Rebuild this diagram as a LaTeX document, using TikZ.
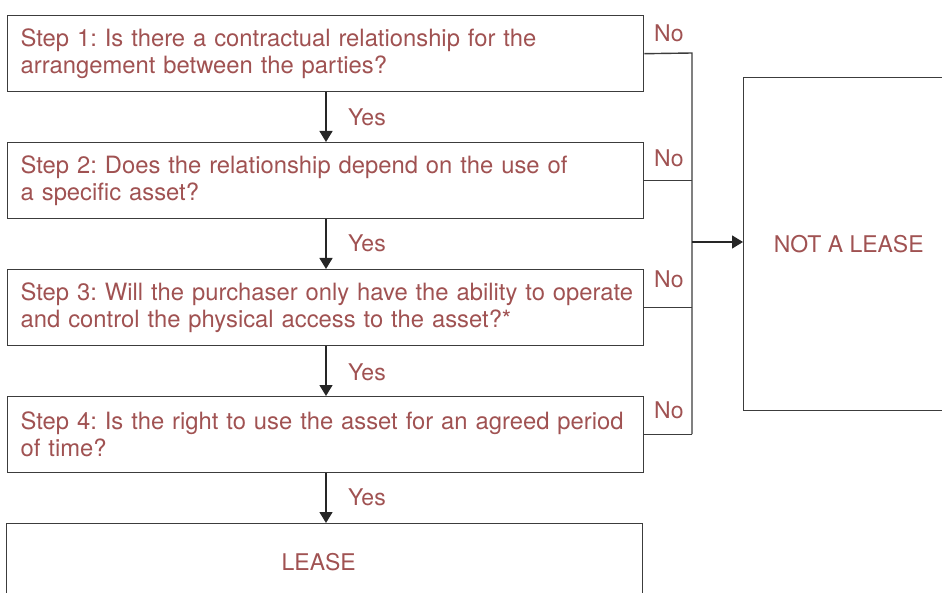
\documentclass[tikz,border=0pt]{standalone}
\usepackage{fontspec}
\setmainfont{TeX Gyre Heros}
\frenchspacing
\hfuzz=100pt
\usetikzlibrary{arrows.meta}
\definecolor{txt}{RGB}{160,82,82}
\definecolor{ln}{RGB}{60,60,60}
\newcommand{\mystepfont}{\fontsize{23.8pt}{27pt}\selectfont\spaceskip=8.3pt plus 2pt minus 1pt\relax}
\tikzset{
  fnt/.style={font=\fontsize{23pt}{27pt}\selectfont},
  stepbox/.style={draw=ln, line width=1.4pt, minimum width=636pt, minimum height=76pt,
    text width=610pt, inner xsep=13pt, align=left, anchor=north west, text=txt, font=\mystepfont},
  endbox/.style={draw=ln, line width=1.4pt, text=txt, fnt},
  lbl/.style={text=txt, fnt, inner sep=0pt},
  conn/.style={draw=ln, line width=1.4pt},
  arr/.style={conn, -{Triangle[width=13pt,length=11pt]}, draw=black!85}
}
\begin{document}
\begin{tikzpicture}[x=1pt,y=-1pt]
\useasboundingbox (0,0) rectangle (942,593);
\node[stepbox] (s1) at (7,15) {\mbox{Step 1: Is there a contractual relationship for the}\\\mbox{arrangement between the parties?}};
\node[stepbox] (s2) at (7,142) {\mbox{Step 2: Does the relationship depend on the use of}\\\mbox{a specific asset?}};
\node[stepbox] (s3) at (7,269) {\mbox{Step 3: Will the purchaser only have the ability to operate}\\\mbox{and control the physical access to the asset?*}};
\node[stepbox] (s4) at (7,396) {\mbox{Step 4: Is the right to use the asset for an agreed period}\\\mbox{of time?}};
\node[endbox, minimum width=636pt, minimum height=76pt, anchor=north west] (lease) at (6,523) {\hspace*{-12pt}LEASE};
\node[endbox, minimum width=210pt, minimum height=333pt, anchor=north west] (notlease) at (743,77) {NOT A LEASE};
\coordinate (vt) at (692,53);
\coordinate (vb) at (692,434);
\coordinate (vm) at (692,242);
\draw[conn] (s1.east) -- (vt) -- (vb);
\draw[conn] (s2.east) -- (s2.east -| vt);
\draw[conn] (s3.east) -- (s3.east -| vt);
\draw[conn] (s4.east) -- (s4.east -| vt);
\draw[arr] (vm) -- (vm -| notlease.west);
\draw[arr] (s1.south -| 326,0) -- (s2.north -| 326,0);
\draw[arr] (s2.south -| 326,0) -- (s3.north -| 326,0);
\draw[arr] (s3.south -| 326,0) -- (s4.north -| 326,0);
\draw[arr] (s4.south -| 326,0) -- (lease.north -| 326,0);
\node[lbl, anchor=west] (y1) at (348,117) {Yes};
\node[lbl, anchor=west] (y2) at (348,243) {Yes};
\node[lbl, anchor=west] (y3) at (348,372) {Yes};
\node[lbl, anchor=west] (y4) at (348,497) {Yes};
\node[lbl, anchor=west] (n1) at (654,33) {No};
\node[lbl, anchor=west] (n2) at (654,158) {No};
\node[lbl, anchor=west] (n3) at (654,279) {No};
\node[lbl, anchor=west] (n4) at (654,410) {No};
\end{tikzpicture}
\end{document}
